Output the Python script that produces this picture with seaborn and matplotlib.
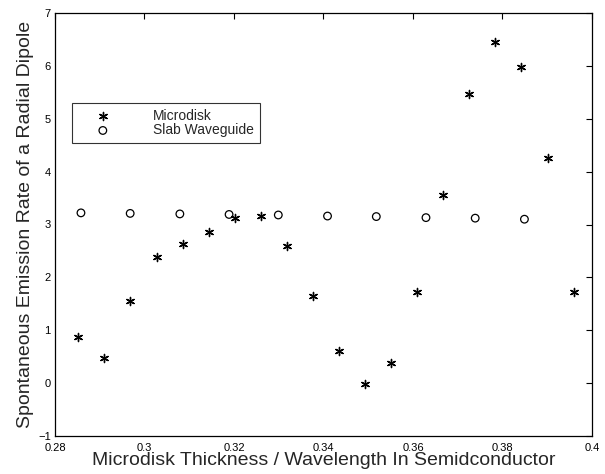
import matplotlib
matplotlib.use("Agg")
import matplotlib.pyplot as plt
import seaborn as sns

sns.set_theme(style="white")
plt.rcParams['font.family'] = ['Liberation Sans', 'DejaVu Sans']

disk_x = [0.2852, 0.2910, 0.2968, 0.3027, 0.3087, 0.3144, 0.3203, 0.3261, 0.3319, 0.3377,
          0.3435, 0.3492, 0.3550, 0.3608, 0.3667, 0.3725, 0.3783, 0.3842, 0.3901, 0.3960]
disk_y = [0.88, 0.47, 1.56, 2.38, 2.64, 2.86, 3.13, 3.16, 2.60, 1.65,
          0.60, -0.02, 0.39, 1.73, 3.56, 5.46, 6.46, 5.97, 4.25, 1.72]
slab_x = [0.2858, 0.2968, 0.3079, 0.3189, 0.3299, 0.3409, 0.3518, 0.3629, 0.3739, 0.3849]
slab_y = [3.22, 3.21, 3.20, 3.19, 3.18, 3.16, 3.15, 3.13, 3.12, 3.10]
x_ticks = [0.28, 0.3, 0.32, 0.34, 0.36, 0.38, 0.4]
x_labels = ["0.28", "0.3", "0.32", "0.34", "0.36", "0.38", "0.4"]
y_ticks = [-1, 0, 1, 2, 3, 4, 5, 6, 7]

fig = plt.figure(figsize=(6.05, 4.74), dpi=100)
ax = fig.add_axes([55 / 605, 1 - 436 / 474, 537 / 605, 423 / 474])

sns.scatterplot(x=disk_x, y=disk_y, ax=ax, marker=(6, 2, 0), s=34, color='black',
                linewidth=1.0, label='Microdisk')
sns.scatterplot(x=slab_x, y=slab_y, ax=ax, marker='o', s=30, facecolor='none',
                edgecolor='black', linewidth=0.9, label='Slab Waveguide')

ax.set_xlim(0.28, 0.4)
ax.set_ylim(-1, 7)
ax.set_xticks(x_ticks)
ax.set_xticklabels(x_labels)
ax.set_yticks(y_ticks)
ax.tick_params(direction='in', top=True, right=True, length=4, width=0.8,
               labelsize=8, colors='black', pad=3)
ax.tick_params(axis='x', pad=5)
for s in ax.spines.values():
    s.set_color('black')
    s.set_linewidth(0.9)
ax.set_xlabel('Microdisk Thickness / Wavelength In Semidconductor', fontsize=14, labelpad=-1)
ax.set_ylabel('Spontaneous Emission Rate of a Radial Dipole', fontsize=14, labelpad=3)

leg = ax.legend(loc='upper left', bbox_to_anchor=(17 / 537, (436 - 103) / 423), frameon=True,
                fancybox=False, edgecolor='black', fontsize=10, handletextpad=1.8,
                handlelength=3.6, borderpad=0.42, labelspacing=0.02, borderaxespad=0)
leg.get_frame().set_linewidth(0.8)

fig.savefig('out.png', dpi=100)
